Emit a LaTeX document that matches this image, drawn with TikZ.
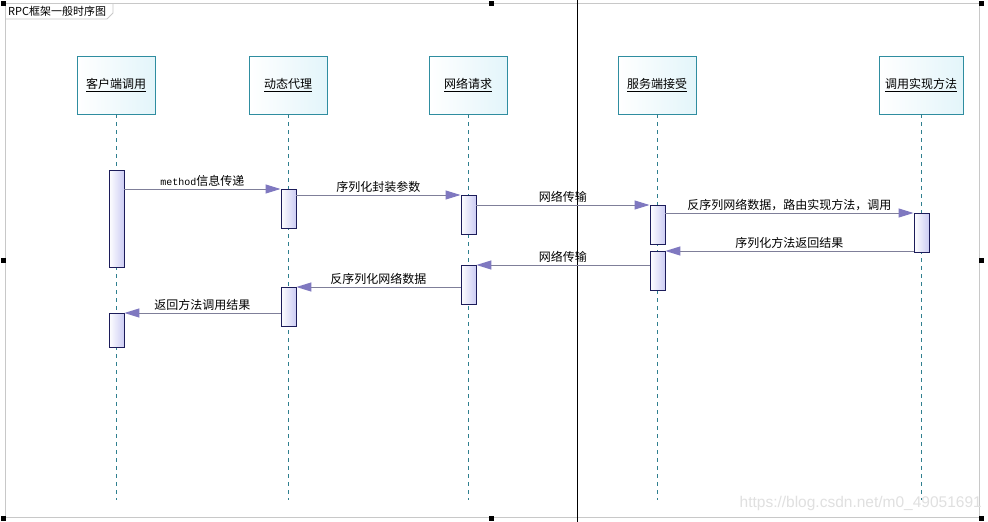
\documentclass[tikz,border=0pt]{standalone}
\usepackage{fontspec}
\setmainfont{Liberation Sans}
\newfontfamily\cjk{Noto Sans CJK SC}
\newfontfamily\monof{Liberation Mono}
\usetikzlibrary{arrows.meta}
\definecolor{boxline}{HTML}{2F8DA0}
\definecolor{boxfill}{HTML}{E3F5FA}
\definecolor{barline}{HTML}{1C1C5A}
\definecolor{barfill}{HTML}{CCCCF4}
\definecolor{msgline}{HTML}{7F7F99}
\definecolor{tipc}{HTML}{7F78C0}
\definecolor{lifec}{HTML}{2F7F8F}
\definecolor{framec}{HTML}{C8C8C8}
\tikzset{
  lbox/.style={draw=boxline, line width=0.9pt, left color=white, right color=boxfill,
    minimum height=58pt, inner sep=0pt, font=\cjk\fontsize{12}{14}\selectfont},
  actbar/.style={draw=barline, line width=0.9pt, left color=white, right color=barfill,
    minimum width=15pt, inner sep=0pt, anchor=north west},
  life/.style={draw=lifec, line width=0.8pt, dash pattern=on 4pt off 4pt},
  msg/.style={draw=msgline, line width=1pt,
    -{Triangle[length=15pt,width=9pt,color=tipc]}},
  mlabel/.style={font=\cjk\fontsize{12}{14}\selectfont, inner sep=1pt, above, yshift=1pt},
  handle/.style={fill=black, minimum size=5pt, inner sep=0pt}
}
\begin{document}
\begin{tikzpicture}[x=1pt,y=-1pt]
\useasboundingbox (0,0) rectangle (988,522);
\fill[white] (0,0) rectangle (988,522);
% frame
\draw[framec, line width=1pt] (5,3) rectangle (979,517);
\draw[framec, line width=0.8pt] (5,19) -- (107,19) -- (113,13) -- (113,3);
\node[anchor=west, font=\cjk\fontsize{11}{13}\selectfont, inner sep=0pt] (title) at (8,11) {RPC框架一般时序图};
% black screenshot line
\draw[black, line width=1pt] (577,0) -- (577,522);
% watermark
\node[anchor=east, text=black!12, font=\fontsize{15.5}{17}\selectfont, inner sep=0pt] (wm) at (982,503) {https://blog.csdn.net/m0\_49051691};
% lifeline boxes
\node[lbox, minimum width=78pt] (A) at (116,85) {\underline{客户端调用}};
\node[lbox, minimum width=78pt] (B) at (288,85) {\underline{动态代理}};
\node[lbox, minimum width=78pt] (C) at (468,85) {\underline{网络请求}};
\node[lbox, minimum width=78pt] (D) at (657,85) {\underline{服务端接受}};
\node[lbox, minimum width=84pt] (E) at (921,85) {\underline{调用实现方法}};
\coordinate (eA) at (116,500);
\coordinate (eB) at (288,500);
\coordinate (eC) at (468,500);
\coordinate (eD) at (657,500);
\coordinate (eE) at (921,500);
\draw[life] (A.south) -- (eA);
\draw[life] (B.south) -- (eB);
\draw[life] (C.south) -- (eC);
\draw[life] (D.south) -- (eD);
\draw[life] (E.south) -- (eE);
% activation bars
\node[actbar, minimum height=97pt] (a1) at (108.5,170) {};
\node[actbar, minimum height=34pt] (a2) at (108.5,313) {};
\node[actbar, minimum height=39pt] (b1) at (280.5,189) {};
\node[actbar, minimum height=39pt] (b2) at (280.5,287) {};
\node[actbar, minimum height=39pt] (c1) at (460.5,195) {};
\node[actbar, minimum height=39pt] (c2) at (460.5,265) {};
\node[actbar, minimum height=39pt] (d1) at (649.5,205) {};
\node[actbar, minimum height=39pt] (d2) at (649.5,251) {};
\node[actbar, minimum height=39pt] (e1) at (913.5,213) {};
% messages
\draw[msg] (b1.north west -| a1.east) -- node[mlabel] {{\monof\fontsize{10}{12}\selectfont method}信息传递} (b1.north west);
\draw[msg] (c1.north west -| b1.east) -- node[mlabel] {序列化封装参数} (c1.north west);
\draw[msg] (d1.north west -| c1.east) -- node[mlabel] {网络传输} (d1.north west);
\draw[msg] (e1.north west -| d1.east) -- node[mlabel] {反序列网络数据，路由实现方法，调用} (e1.north west);
\draw[msg] (d2.north east -| e1.west) -- node[mlabel] {序列化方法返回结果} (d2.north east);
\draw[msg] (c2.north east -| d2.west) -- node[mlabel] {网络传输} (c2.north east);
\draw[msg] (b2.north east -| c2.west) -- node[mlabel] {反序列化网络数据} (b2.north east);
\draw[msg] (a2.north east -| b2.west) -- node[mlabel] {返回方法调用结果} (a2.north east);
% selection handles
\node[handle] (h1) at (3,3) {};
\node[handle] (h2) at (491,3) {};
\node[handle] (h3) at (981,3) {};
\node[handle] (h4) at (3,260) {};
\node[handle] (h5) at (981,260) {};
\node[handle] (h6) at (3,518) {};
\node[handle] (h7) at (491,518) {};
\node[handle] (h8) at (981,518) {};
\end{tikzpicture}
\end{document}
